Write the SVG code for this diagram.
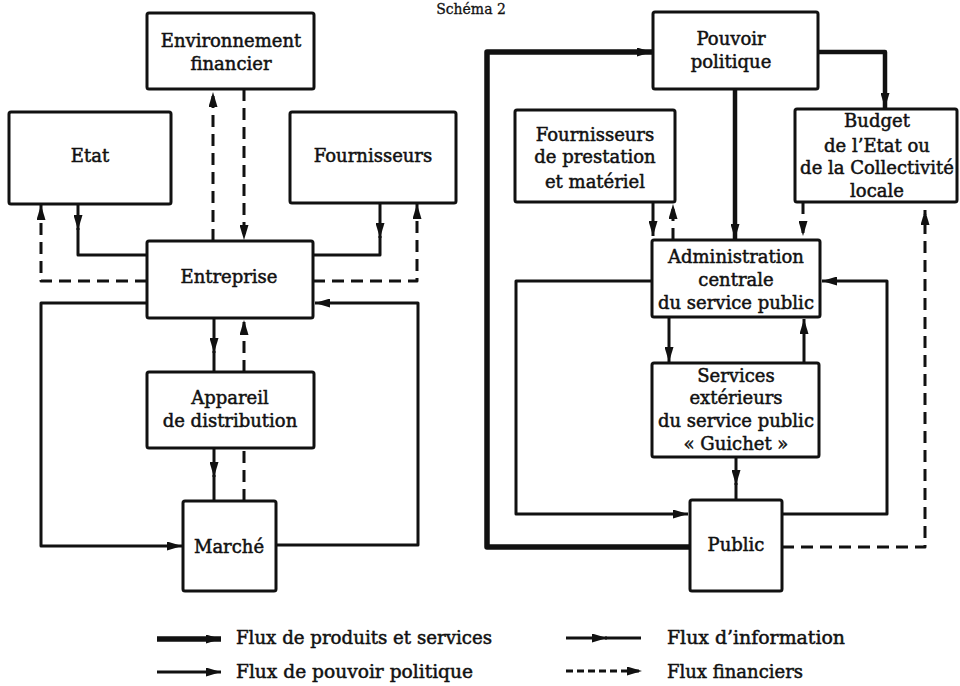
<svg xmlns="http://www.w3.org/2000/svg" width="960" height="686" viewBox="0 0 960 686">
<style>
.box{fill:#fff;stroke:#111;stroke-width:3;stroke-linejoin:round}
.ln{fill:none;stroke:#111;stroke-width:3;stroke-linejoin:round}
.thk{stroke-width:5.5}
.med{stroke-width:4.5}
.dash{stroke-dasharray:12 7}
.ldash{stroke-dasharray:7 4}
text{font-family:"DejaVu Serif","Liberation Serif",serif;font-size:18px;fill:#111;stroke:#111;stroke-width:0.5;text-anchor:middle}
text.lg{text-anchor:start}
</style>
<defs>
<marker id="arr" viewBox="0 0 15 9" refX="15" refY="4.5" markerWidth="15" markerHeight="9" markerUnits="userSpaceOnUse" orient="auto">
<path d="M0,0 L15,4.5 L0,9 z" fill="#111"/>
</marker>
</defs>
<rect width="960" height="686" fill="#fff"/>
<text x="471" y="14" style="font-size:14px;stroke-width:0.3">Schéma 2</text>

<g id="connectors">
<!-- left diagram -->
<path class="ln dash" d="M213,241 V92" marker-end="url(#arr)"/>
<path class="ln dash" d="M244,89 V240" marker-end="url(#arr)"/>
<path class="ln" d="M78,204 V230" marker-end="url(#arr)"/>
<path class="ln" d="M78,228 V255 H147"/>
<path class="ln dash" d="M147,281 H41 V205" marker-end="url(#arr)"/>
<path class="ln" d="M380,203 V238" marker-end="url(#arr)"/>
<path class="ln" d="M380,236 V255 H313"/>
<path class="ln dash" d="M313,281 H417 V204" marker-end="url(#arr)"/>
<path class="ln" d="M147,303 H41 V546 H182" marker-end="url(#arr)"/>
<path class="ln" d="M276,545 H418 V303 H315" marker-end="url(#arr)"/>
<path class="ln" d="M214,318 V353" marker-end="url(#arr)"/>
<path class="ln" d="M214,351 V372"/>
<path class="ln dash" d="M244,372 V320" marker-end="url(#arr)"/>
<path class="ln" d="M214,448 V477" marker-end="url(#arr)"/>
<path class="ln" d="M214,475 V501"/>
<path class="ln dash" d="M244,501 V448"/>
<!-- right diagram -->
<path class="ln thk" d="M689,547 H487 V52 H652" marker-end="url(#arr)"/>
<path class="ln med" d="M818,52 H885 V108" marker-end="url(#arr)"/>
<path class="ln med" d="M735,89 V239" marker-end="url(#arr)"/>
<path class="ln" d="M653,202 V236" marker-end="url(#arr)"/>
<path class="ln dash" d="M673,240 V204" marker-end="url(#arr)"/>
<path class="ln dash" d="M803,202 V236" marker-end="url(#arr)"/>
<path class="ln dash" d="M782,547 H925 V210" marker-end="url(#arr)"/>
<path class="ln" d="M652,281 H516 V514 H688" marker-end="url(#arr)"/>
<path class="ln" d="M782,514 H887 V281 H822" marker-end="url(#arr)"/>
<path class="ln" d="M669,317 V362" marker-end="url(#arr)"/>
<path class="ln" d="M804,363 V319" marker-end="url(#arr)"/>
<path class="ln" d="M736,457 V485" marker-end="url(#arr)"/>
<path class="ln" d="M736,483 V500"/>
</g>

<g id="env-financier"><rect class="box" x="147" y="13" width="167" height="76" rx="2"/>
<text x="231" y="47">Environnement</text><text x="231" y="70">financier</text></g>
<g id="etat"><rect class="box" x="9" y="112" width="162" height="92" rx="2"/>
<text x="90" y="162">Etat</text></g>
<g id="fournisseurs"><rect class="box" x="290" y="112" width="166" height="91" rx="2"/>
<text x="373" y="162">Fournisseurs</text></g>
<g id="entreprise"><rect class="box" x="147" y="241" width="166" height="77" rx="2"/>
<text x="229" y="283">Entreprise</text></g>
<g id="appareil"><rect class="box" x="147" y="372" width="167" height="76" rx="2"/>
<text x="230" y="404">Appareil</text><text x="230" y="427">de distribution</text></g>
<g id="marche"><rect class="box" x="183" y="501" width="93" height="90" rx="2"/>
<text x="229" y="553">Marché</text></g>

<g id="pouvoir"><rect class="box" x="653" y="12" width="165" height="77" rx="2"/>
<text x="731" y="45">Pouvoir</text><text x="731" y="68">politique</text></g>
<g id="fournisseurs-prestation"><rect class="box" x="515" y="110" width="160" height="92" rx="2"/>
<text x="595" y="141">Fournisseurs</text><text x="595" y="163">de prestation</text><text x="595" y="188">et matériel</text></g>
<g id="budget"><rect class="box" x="795" y="109" width="162" height="93" rx="2"/>
<text x="877" y="127">Budget</text><text x="877" y="152">de l’Etat ou</text><text x="877" y="174">de la Collectivité</text><text x="877" y="197">locale</text></g>
<g id="administration"><rect class="box" x="652" y="240" width="168" height="77" rx="2"/>
<text x="736" y="263">Administration</text><text x="736" y="286">centrale</text><text x="736" y="309">du service public</text></g>
<g id="services"><rect class="box" x="652" y="363" width="167" height="94" rx="2"/>
<text x="736" y="382">Services</text><text x="736" y="404">extérieurs</text><text x="736" y="427">du service public</text><text x="736" y="450">« Guichet »</text></g>
<g id="public"><rect class="box" x="690" y="500" width="92" height="91" rx="2"/>
<text x="736" y="551">Public</text></g>

<g id="legend">
<path class="ln thk" d="M157,639 H221" marker-end="url(#arr)"/>
<text class="lg" x="236" y="644" textLength="256" lengthAdjust="spacingAndGlyphs">Flux de produits et services</text>
<path class="ln" d="M157,672 H221" marker-end="url(#arr)"/>
<text class="lg" x="236" y="678" textLength="237" lengthAdjust="spacingAndGlyphs">Flux de pouvoir politique</text>
<path class="ln" d="M566,638 H607" marker-end="url(#arr)"/>
<path class="ln" d="M605,638 H641"/>
<text class="lg" x="667" y="644" textLength="178" lengthAdjust="spacingAndGlyphs">Flux d’information</text>
<path class="ln ldash" d="M566,671 H642" marker-end="url(#arr)"/>
<text class="lg" x="667" y="678" textLength="136" lengthAdjust="spacingAndGlyphs">Flux financiers</text>
</g>
</svg>
